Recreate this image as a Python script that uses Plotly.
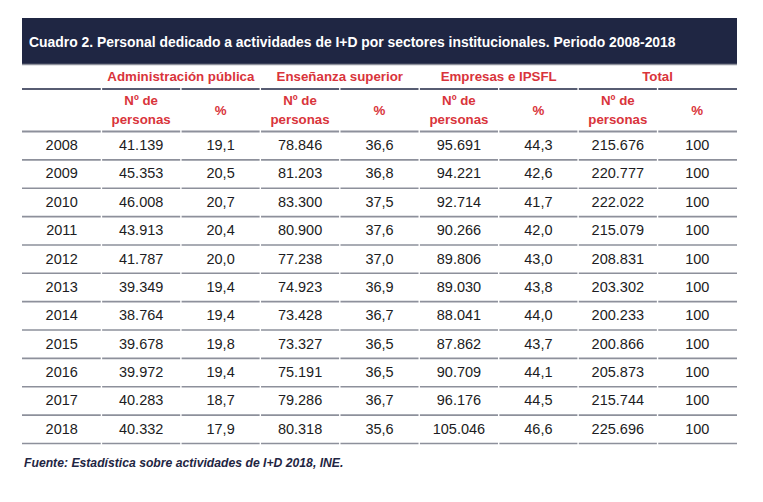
# Cuadro 2: personal en I+D por sectores institucionales, 2008-2018
# table drawn with text scatter + shapes so the header layout can be matched

import plotly.graph_objects as go

years = [2008, 2009, 2010, 2011, 2012, 2013, 2014, 2015, 2016, 2017, 2018]
adm_n = [41139, 45353, 46008, 43913, 41787, 39349, 38764, 39678, 39972, 40283, 40332]
adm_pct = [19.1, 20.5, 20.7, 20.4, 20.0, 19.4, 19.4, 19.8, 19.4, 18.7, 17.9]
ens_n = [78846, 81203, 83300, 80900, 77238, 74923, 73428, 73327, 75191, 79286, 80318]
ens_pct = [36.6, 36.8, 37.5, 37.6, 37.0, 36.9, 36.7, 36.5, 36.5, 36.7, 35.6]
emp_n = [95691, 94221, 92714, 90266, 89806, 89030, 88041, 87862, 90709, 96176, 105046]
emp_pct = [44.3, 42.6, 41.7, 42.0, 43.0, 43.8, 44.0, 43.7, 44.1, 44.5, 46.6]
tot_n = [215676, 220777, 222022, 215079, 208831, 203302, 200233, 200866, 205873, 215744, 225696]
tot_pct = [100, 100, 100, 100, 100, 100, 100, 100, 100, 100, 100]

groups = ["Administración pública", "Enseñanza superior", "Empresas e IPSFL", "Total"]
sub_top = ["Nº de", "%"]
sub_bottom = ["personas", ""]

title = "Cuadro 2. Personal dedicado a actividades de I+D por sectores institucionales. Periodo 2008-2018"
source = "Fuente: Estadística sobre actividades de I+D 2018, INE."

# colours / fonts
NAVY = "#1f2643"
RED = "#d9343b"
GRAY = "#8d909b"
TXT = "#1c1c22"
FONT = "Liberation Sans, Arial, sans-serif"

# geometry (page pixels, y measured from the top; page body has an 8px margin)
W, H = 763, 502
PAD = 8
x0, ncol = 22, 9
col_w = (737 - x0) / ncol
bar_top, bar_bot = 18, 64
y_group_line = 89
y_sub_line = 131.5
row_h = 28.36


def cx(i):
    return x0 + col_w * (i + 0.5)


def fmt_n(v):
    return f"{v:,}".replace(",", ".")


def fmt_p(v):
    if v == 100:
        return "100"
    return f"{v:.1f}".replace(".", ",")


columns = [
    [str(y) for y in years],
    [fmt_n(v) for v in adm_n], [fmt_p(v) for v in adm_pct],
    [fmt_n(v) for v in ens_n], [fmt_p(v) for v in ens_pct],
    [fmt_n(v) for v in emp_n], [fmt_p(v) for v in emp_pct],
    [fmt_n(v) for v in tot_n], [fmt_p(v) for v in tot_pct],
]

fig = go.Figure()

# data cells
xs, ys, ts = [], [], []
for c, col in enumerate(columns):
    for r, val in enumerate(col):
        xs.append(cx(c))
        ys.append(y_sub_line + row_h * (r + 0.5) + 0.8)
        ts.append(val)
fig.add_trace(go.Scatter(
    x=xs, y=ys, text=ts, mode="text", textposition="middle center",
    textfont=dict(family=FONT, size=14.5, color=TXT),
    hoverinfo="skip", showlegend=False
))

# group headers (each spans two columns)
fig.add_trace(go.Scatter(
    x=[(cx(1 + 2 * g) + cx(2 + 2 * g)) / 2 for g in range(len(groups))],
    y=[77.5] * len(groups), text=groups, mode="text",
    textfont=dict(family=FONT, size=13.3, color=RED, weight="bold"),
    hoverinfo="skip", showlegend=False
))

# sub headers
hx, hy, ht = [], [], []
for g in range(len(groups)):
    for k in range(2):
        c = 1 + 2 * g + k
        if sub_bottom[k]:
            hx += [cx(c), cx(c)]
            hy += [101.5, 120.5]
            ht += [sub_top[k], sub_bottom[k]]
        else:
            hx.append(cx(c))
            hy.append(111.5)
            ht.append(sub_top[k])
fig.add_trace(go.Scatter(
    x=hx, y=hy, text=ht, mode="text",
    textfont=dict(family=FONT, size=13.3, color=RED, weight="bold"),
    hoverinfo="skip", showlegend=False
))

shapes = [dict(type="rect", xref="x", yref="y", x0=x0, x1=x0 + col_w * ncol,
               y0=bar_top, y1=bar_bot, fillcolor=NAVY, line=dict(width=0), layer="below")]
shapes.append(dict(type="line", xref="x", yref="y", x0=x0, x1=x0 + col_w * ncol,
                   y0=bar_bot + 0.5, y1=bar_bot + 0.5, line=dict(color=GRAY, width=1.5)))


def seg_line(y, color, width):
    for c in range(ncol):
        shapes.append(dict(type="line", xref="x", yref="y",
                           x0=x0 + col_w * c + (0.7 if c else 0),
                           x1=x0 + col_w * (c + 1) - (0.7 if c < ncol - 1 else 0),
                           y0=y, y1=y, line=dict(color=color, width=width)))


seg_line(y_group_line, NAVY, 1.5)
seg_line(y_sub_line, GRAY, 2.2)
for r in range(len(years)):
    seg_line(y_sub_line + row_h * (r + 1), GRAY, 1.6)

fig.update_layout(
    width=W - PAD, height=H - PAD,
    margin=dict(l=0, r=0, t=0, b=0),
    paper_bgcolor="white", plot_bgcolor="white",
    xaxis=dict(range=[PAD, W], visible=False, fixedrange=True),
    yaxis=dict(range=[H, PAD], visible=False, fixedrange=True),
    shapes=shapes,
    annotations=[
        dict(x=27, y=(bar_top + bar_bot) / 2 + 1, xref="x", yref="y", text=title,
             showarrow=False, xanchor="left", yanchor="middle",
             font=dict(family=FONT, size=13.9, color="white", weight="bold")),
        dict(x=x0, y=463, xref="x", yref="y", text=source,
             showarrow=False, xanchor="left", yanchor="middle",
             font=dict(family=FONT, size=12.2, color=NAVY, weight="bold", style="italic")),
    ],
)

fig.write_html("out.html")
